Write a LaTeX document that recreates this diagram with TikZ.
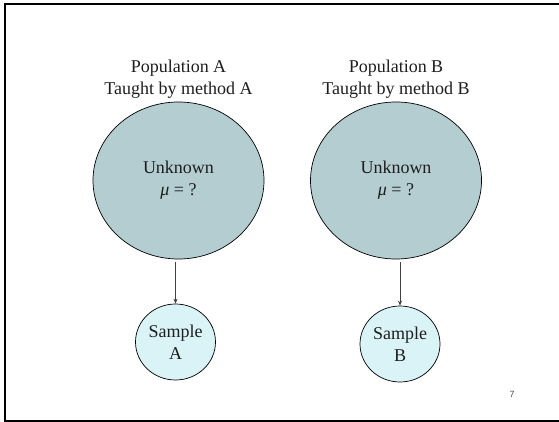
\documentclass[tikz,border=0pt]{standalone}
\usepackage{fontspec}
\setmainfont{Liberation Serif}
\newfontfamily\numfont{Liberation Sans}
\usetikzlibrary{shapes.geometric,arrows.meta}
\definecolor{popfill}{RGB}{180,205,209}
\definecolor{sampfill}{RGB}{218,243,247}
\definecolor{txt}{RGB}{30,30,30}
\tikzset{
  pop/.style={ellipse,draw=black,line width=0.7pt,fill=popfill,minimum width=171pt,minimum height=157pt,inner sep=0pt,font=\fontsize{18}{22}\selectfont,text=txt,align=center},
  samp/.style={ellipse,draw=black,line width=0.7pt,fill=sampfill,minimum width=80pt,minimum height=76pt,inner sep=0pt,font=\fontsize{18}{22}\selectfont,text=txt,align=center},
  lbl/.style={font=\fontsize{18}{22}\selectfont,text=txt,align=center,inner sep=0pt},
  conn/.style={draw=black!75,line width=0.8pt,-{Stealth[length=5pt,width=4pt]}}
}
\begin{document}
\begin{tikzpicture}[x=1pt,y=-1pt]
\useasboundingbox (0,0) rectangle (559,422);
\fill[white] (0,0) rectangle (559,422);
\draw[line width=2pt] (562,4.5) -- (5,4.5) -- (5,420.5) -- (562,420.5);
\node[lbl] (tA) at (178.5,79) {Population A\\Taught by method A};
\node[lbl] (tB) at (396,79) {Population B\\Taught by method B};
\node[pop] (pA) at (178.5,180.5) {Unknown\\{\itshape μ} = ?};
\node[pop] (pB) at (396,180.5) {Unknown\\{\itshape μ} = ?};
\node[samp] (sA) at (175.5,342) {Sample\\A};
\node[samp] (sB) at (400,344) {Sample\\B};
\draw[conn] (pA.south -| sA.north) ++(0,3) -- (sA.north);
\draw[conn] (pB.south -| sB.north) ++(0,3) -- (sB.north);
\node[font=\numfont\fontsize{9}{10}\selectfont,text=black!70] (pg) at (512,394) {7};
\end{tikzpicture}
\end{document}
